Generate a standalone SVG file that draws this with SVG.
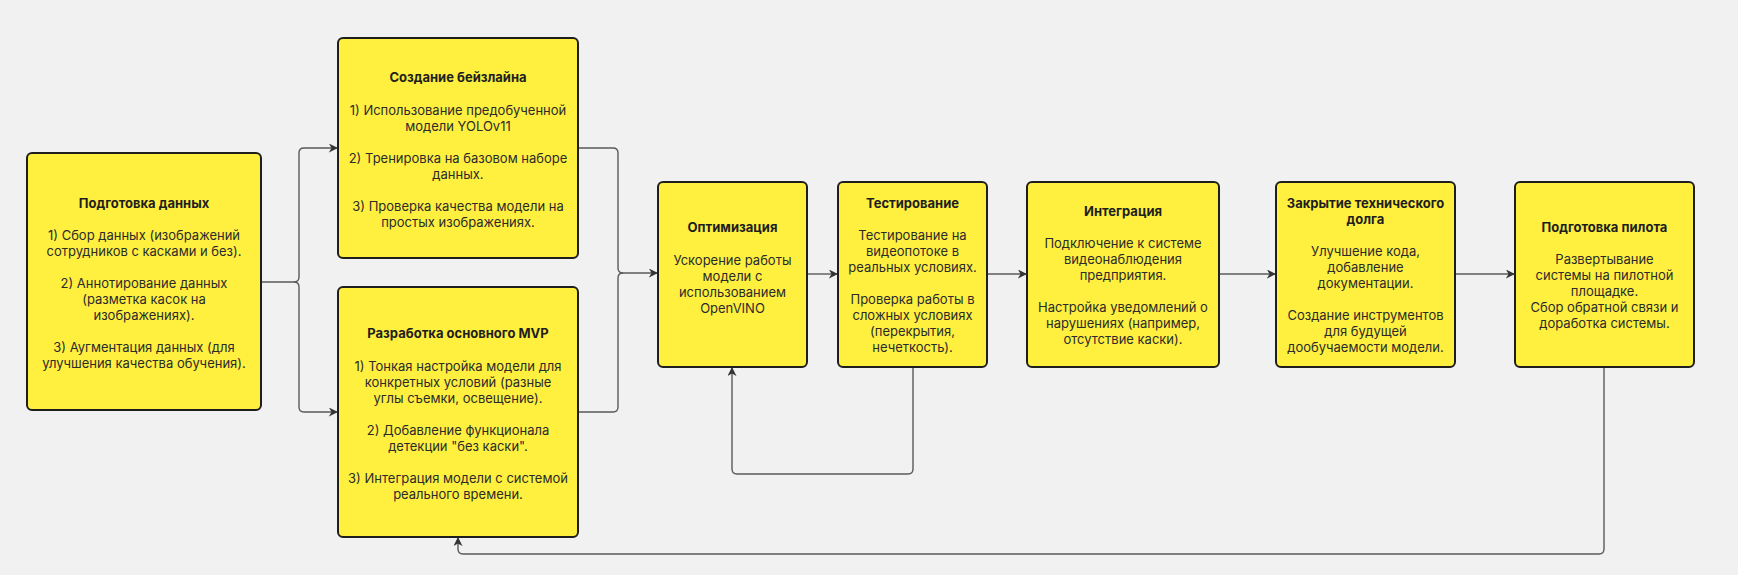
<svg xmlns="http://www.w3.org/2000/svg" width="1738" height="575" viewBox="0 0 1738 575">
<defs>
<style>
.node rect{fill:#FFF040;stroke:#1E1E1E;stroke-width:2}
.node text{font-family:Inter,"Noto Sans","Liberation Sans",sans-serif;font-size:13px;fill:#2B2B2B;text-anchor:middle}
.node .t{font-weight:700;fill:#1E1E1E}
.conn path{fill:none;stroke:#5A5A5A;stroke-width:1.4}
</style>
<marker id="ah" viewBox="0 0 10 10" refX="9" refY="5" markerWidth="9" markerHeight="9" markerUnits="userSpaceOnUse" orient="auto">
<path d="M0,0 L10,5 L0,10 L3,5 Z" fill="#333"/>
</marker>
</defs>
<rect width="1738" height="575" fill="#F1F1F1"/>

<g class="conn">
<path d="M261,282 H294 Q299,282 299,277 V153 Q299,148 304,148 H337" marker-end="url(#ah)"/>
<path d="M294,282 Q299,282 299,287 V407 Q299,412 304,412 H337" marker-end="url(#ah)"/>
<path d="M578,148 H613 Q618,148 618,153 V268 Q618,273 623,273 H657" marker-end="url(#ah)"/>
<path d="M578,412 H613 Q618,412 618,407 V278 Q618,273 623,273"/>
<path d="M807,274 H837" marker-end="url(#ah)"/>
<path d="M913,367 V469 Q913,474 908,474 H737 Q732,474 732,469 V368" marker-end="url(#ah)"/>
<path d="M987,274 H1026" marker-end="url(#ah)"/>
<path d="M1219,274 H1275" marker-end="url(#ah)"/>
<path d="M1455,274 H1514" marker-end="url(#ah)"/>
<path d="M1604,367 V549 Q1604,554 1599,554 H463 Q458,554 458,549 V538" marker-end="url(#ah)"/>
</g>

<g class="node" id="n-data">
<rect x="27" y="153" width="234" height="257" rx="5"/>
<text x="144"><tspan class="t" x="144" y="208">Подготовка данных</tspan><tspan x="144" y="240">1) Сбор данных (изображений</tspan><tspan x="144" y="256">сотрудников с касками и без).</tspan><tspan x="144" y="288">2) Аннотирование данных</tspan><tspan x="144" y="304">(разметка касок на</tspan><tspan x="144" y="320">изображениях).</tspan><tspan x="144" y="352">3) Аугментация данных (для</tspan><tspan x="144" y="368">улучшения качества обучения).</tspan></text>
</g>

<g class="node" id="n-baseline">
<rect x="338" y="38" width="240" height="220" rx="5"/>
<text x="458"><tspan class="t" x="458" y="82">Создание бейзлайна</tspan><tspan x="458" y="115">1) Использование предобученной</tspan><tspan x="458" y="131">модели YOLOv11</tspan><tspan x="458" y="163">2) Тренировка на базовом наборе</tspan><tspan x="458" y="179">данных.</tspan><tspan x="458" y="211">3) Проверка качества модели на</tspan><tspan x="458" y="227">простых изображениях.</tspan></text>
</g>

<g class="node" id="n-mvp">
<rect x="338" y="287" width="240" height="250" rx="5"/>
<text x="458"><tspan class="t" x="458" y="338">Разработка основного MVP</tspan><tspan x="458" y="371">1) Тонкая настройка модели для</tspan><tspan x="458" y="387">конкретных условий (разные</tspan><tspan x="458" y="403">углы съемки, освещение).</tspan><tspan x="458" y="435">2) Добавление функционала</tspan><tspan x="458" y="451">детекции "без каски".</tspan><tspan x="458" y="483">3) Интеграция модели с системой</tspan><tspan x="458" y="499">реального времени.</tspan></text>
</g>

<g class="node" id="n-opt">
<rect x="658" y="182" width="149" height="185" rx="5"/>
<text x="732.5"><tspan class="t" x="732.5" y="232">Оптимизация</tspan><tspan x="732.5" y="265">Ускорение работы</tspan><tspan x="732.5" y="281">модели с</tspan><tspan x="732.5" y="297">использованием</tspan><tspan x="732.5" y="313">OpenVINO</tspan></text>
</g>

<g class="node" id="n-test">
<rect x="838" y="182" width="149" height="185" rx="5"/>
<text x="912.5"><tspan class="t" x="912.5" y="208">Тестирование</tspan><tspan x="912.5" y="240">Тестирование на</tspan><tspan x="912.5" y="256">видеопотоке в</tspan><tspan x="912.5" y="272">реальных условиях.</tspan><tspan x="912.5" y="304">Проверка работы в</tspan><tspan x="912.5" y="320">сложных условиях</tspan><tspan x="912.5" y="336">(перекрытия,</tspan><tspan x="912.5" y="352">нечеткость).</tspan></text>
</g>

<g class="node" id="n-integ">
<rect x="1027" y="182" width="192" height="185" rx="5"/>
<text x="1123"><tspan class="t" x="1123" y="216">Интеграция</tspan><tspan x="1123" y="248">Подключение к системе</tspan><tspan x="1123" y="264">видеонаблюдения</tspan><tspan x="1123" y="280">предприятия.</tspan><tspan x="1123" y="312">Настройка уведомлений о</tspan><tspan x="1123" y="328">нарушениях (например,</tspan><tspan x="1123" y="344">отсутствие каски).</tspan></text>
</g>

<g class="node" id="n-debt">
<rect x="1276" y="182" width="179" height="185" rx="5"/>
<text x="1365.5"><tspan class="t" x="1365.5" y="208">Закрытие технического</tspan><tspan class="t" x="1365.5" y="224">долга</tspan><tspan x="1365.5" y="256">Улучшение кода,</tspan><tspan x="1365.5" y="272">добавление</tspan><tspan x="1365.5" y="288">документации.</tspan><tspan x="1365.5" y="320">Создание инструментов</tspan><tspan x="1365.5" y="336">для будущей</tspan><tspan x="1365.5" y="352">дообучаемости модели.</tspan></text>
</g>

<g class="node" id="n-pilot">
<rect x="1515" y="182" width="179" height="185" rx="5"/>
<text x="1604.5"><tspan class="t" x="1604.5" y="232">Подготовка пилота</tspan><tspan x="1604.5" y="264">Развертывание</tspan><tspan x="1604.5" y="280">системы на пилотной</tspan><tspan x="1604.5" y="296">площадке.</tspan><tspan x="1604.5" y="312">Сбор обратной связи и</tspan><tspan x="1604.5" y="328">доработка системы.</tspan></text>
</g>
</svg>
